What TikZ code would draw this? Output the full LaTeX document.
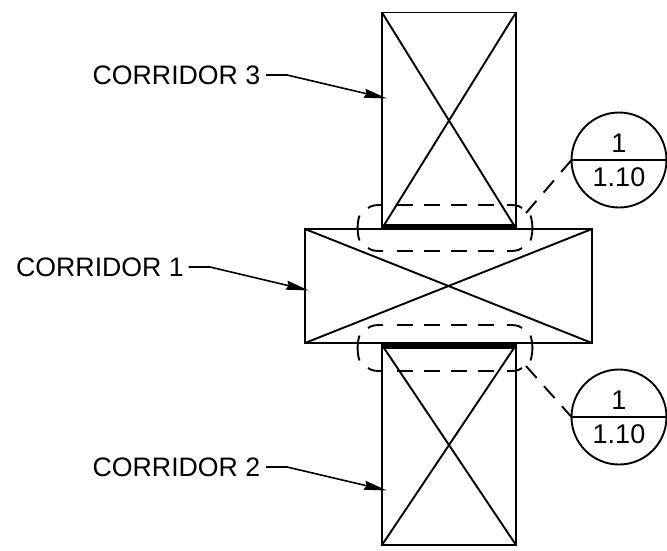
\documentclass[tikz,border=0pt]{standalone}
\usepackage{fontspec}
\setmainfont{Liberation Sans}
\usetikzlibrary{arrows.meta,calc}
\tikzset{
  ln/.style={line width=1.9pt,black},
  corr/.style={ln,draw,rectangle,inner sep=0pt,outer sep=0pt},
  lab/.style={font=\fontsize{26.7}{28}\selectfont,inner sep=0pt,anchor=east},
  leader/.style={line width=1.6pt,-{Stealth[length=23pt,width=9pt,inset=2pt]}},
  thickedge/.style={line width=6.5pt,line cap=butt},
  cloudln/.style={line width=1.9pt},
  bub/.style={ln,draw,circle,minimum size=95pt,inner sep=0pt,outer sep=0pt},
  bubtxt/.style={font=\fontsize{27}{28}\selectfont,inner sep=0pt},
  dleader/.style={line width=1.9pt,dash pattern=on 16pt off 11pt}
}
\begin{document}
\begin{tikzpicture}[x=1pt,y=-1pt]
\useasboundingbox (0,0) rectangle (667,550);
% corridors
\node[corr,minimum width=134pt,minimum height=216pt] (c3) at (449,120.5) {};
\node[corr,minimum width=287pt,minimum height=114pt] (c1) at (448.5,286) {};
\node[corr,minimum width=134pt,minimum height=200pt] (c2) at (449,445) {};
\foreach \n in {c1,c2,c3}{
  \draw[ln] (\n.north west) -- (\n.south east);
  \draw[ln] (\n.north east) -- (\n.south west);
}
% thick edges
\draw[thickedge] ($(c3.south west)+(-0.8,-1.5)$) -- ($(c3.south east)+(0.8,-1.5)$);
\draw[thickedge] ($(c2.north west)+(-0.8,1)$) -- ($(c2.north east)+(0.8,1)$);
% dashed clouds
\foreach \yc in {228,348}{
  \draw[cloudln] (368,\yc-20) .. controls (372,\yc-23) and (376,\yc-23) .. (383,\yc-23);
  \draw[cloudln] (522,\yc-20) .. controls (518,\yc-23) and (514,\yc-23) .. (507,\yc-23);
  \draw[cloudln] (368,\yc+20) .. controls (372,\yc+23) and (376,\yc+23) .. (383,\yc+23);
  \draw[cloudln] (522,\yc+20) .. controls (518,\yc+23) and (514,\yc+23) .. (507,\yc+23);
  \foreach \xa in {397,424,451,478}{
    \draw[cloudln] (\xa,\yc-23) -- ++(15.5,0);
    \draw[cloudln] (\xa,\yc+23) -- ++(15.5,0);
  }
  \draw[cloudln] (359.5,\yc-12.5) .. controls (357,\yc-5) and (357,\yc+5) .. (359.5,\yc+12.5);
  \draw[cloudln] (530.5,\yc-12.5) .. controls (533,\yc-5) and (533,\yc+5) .. (530.5,\yc+12.5);
}
% bubbles
\node[bub] (b1) at (619,160) {};
\node[bub] (b2) at (619,417) {};
\draw[ln] (b1.west) -- (b1.east);
\draw[ln] (b2.west) -- (b2.east);
\node[bubtxt] (b1t) at (619,143) {1};
\node[bubtxt] (b1b) at (619,177) {1.10};
\node[bubtxt] (b2t) at (619,400) {1};
\node[bubtxt] (b2b) at (619,434) {1.10};
\coordinate (e1) at (526,213);
\coordinate (e2) at (526,366);
\draw[dleader] (e1) -- (b1.west);
\draw[dleader] (e2) -- (b2.west);
% labels
\node[lab] (l3) at (260.5,75) {CORRIDOR 3};
\node[lab] (l1) at (184,267) {CORRIDOR 1};
\node[lab] (l2) at (260.5,467) {CORRIDOR 2};
\coordinate (k3) at (287,75);\coordinate (t3) at (387,98.5);
\coordinate (k1) at (210,267);\coordinate (t1) at (309,290.5);
\coordinate (k2) at (287,467);\coordinate (t2) at (387,490.5);
\draw[leader] ($(l3.east)+(5.5,0)$) -- (k3) -- (t3);
\draw[leader] ($(l1.east)+(4.5,0)$) -- (k1) -- (t1);
\draw[leader] ($(l2.east)+(5.5,0)$) -- (k2) -- (t2);
\end{tikzpicture}
\end{document}
